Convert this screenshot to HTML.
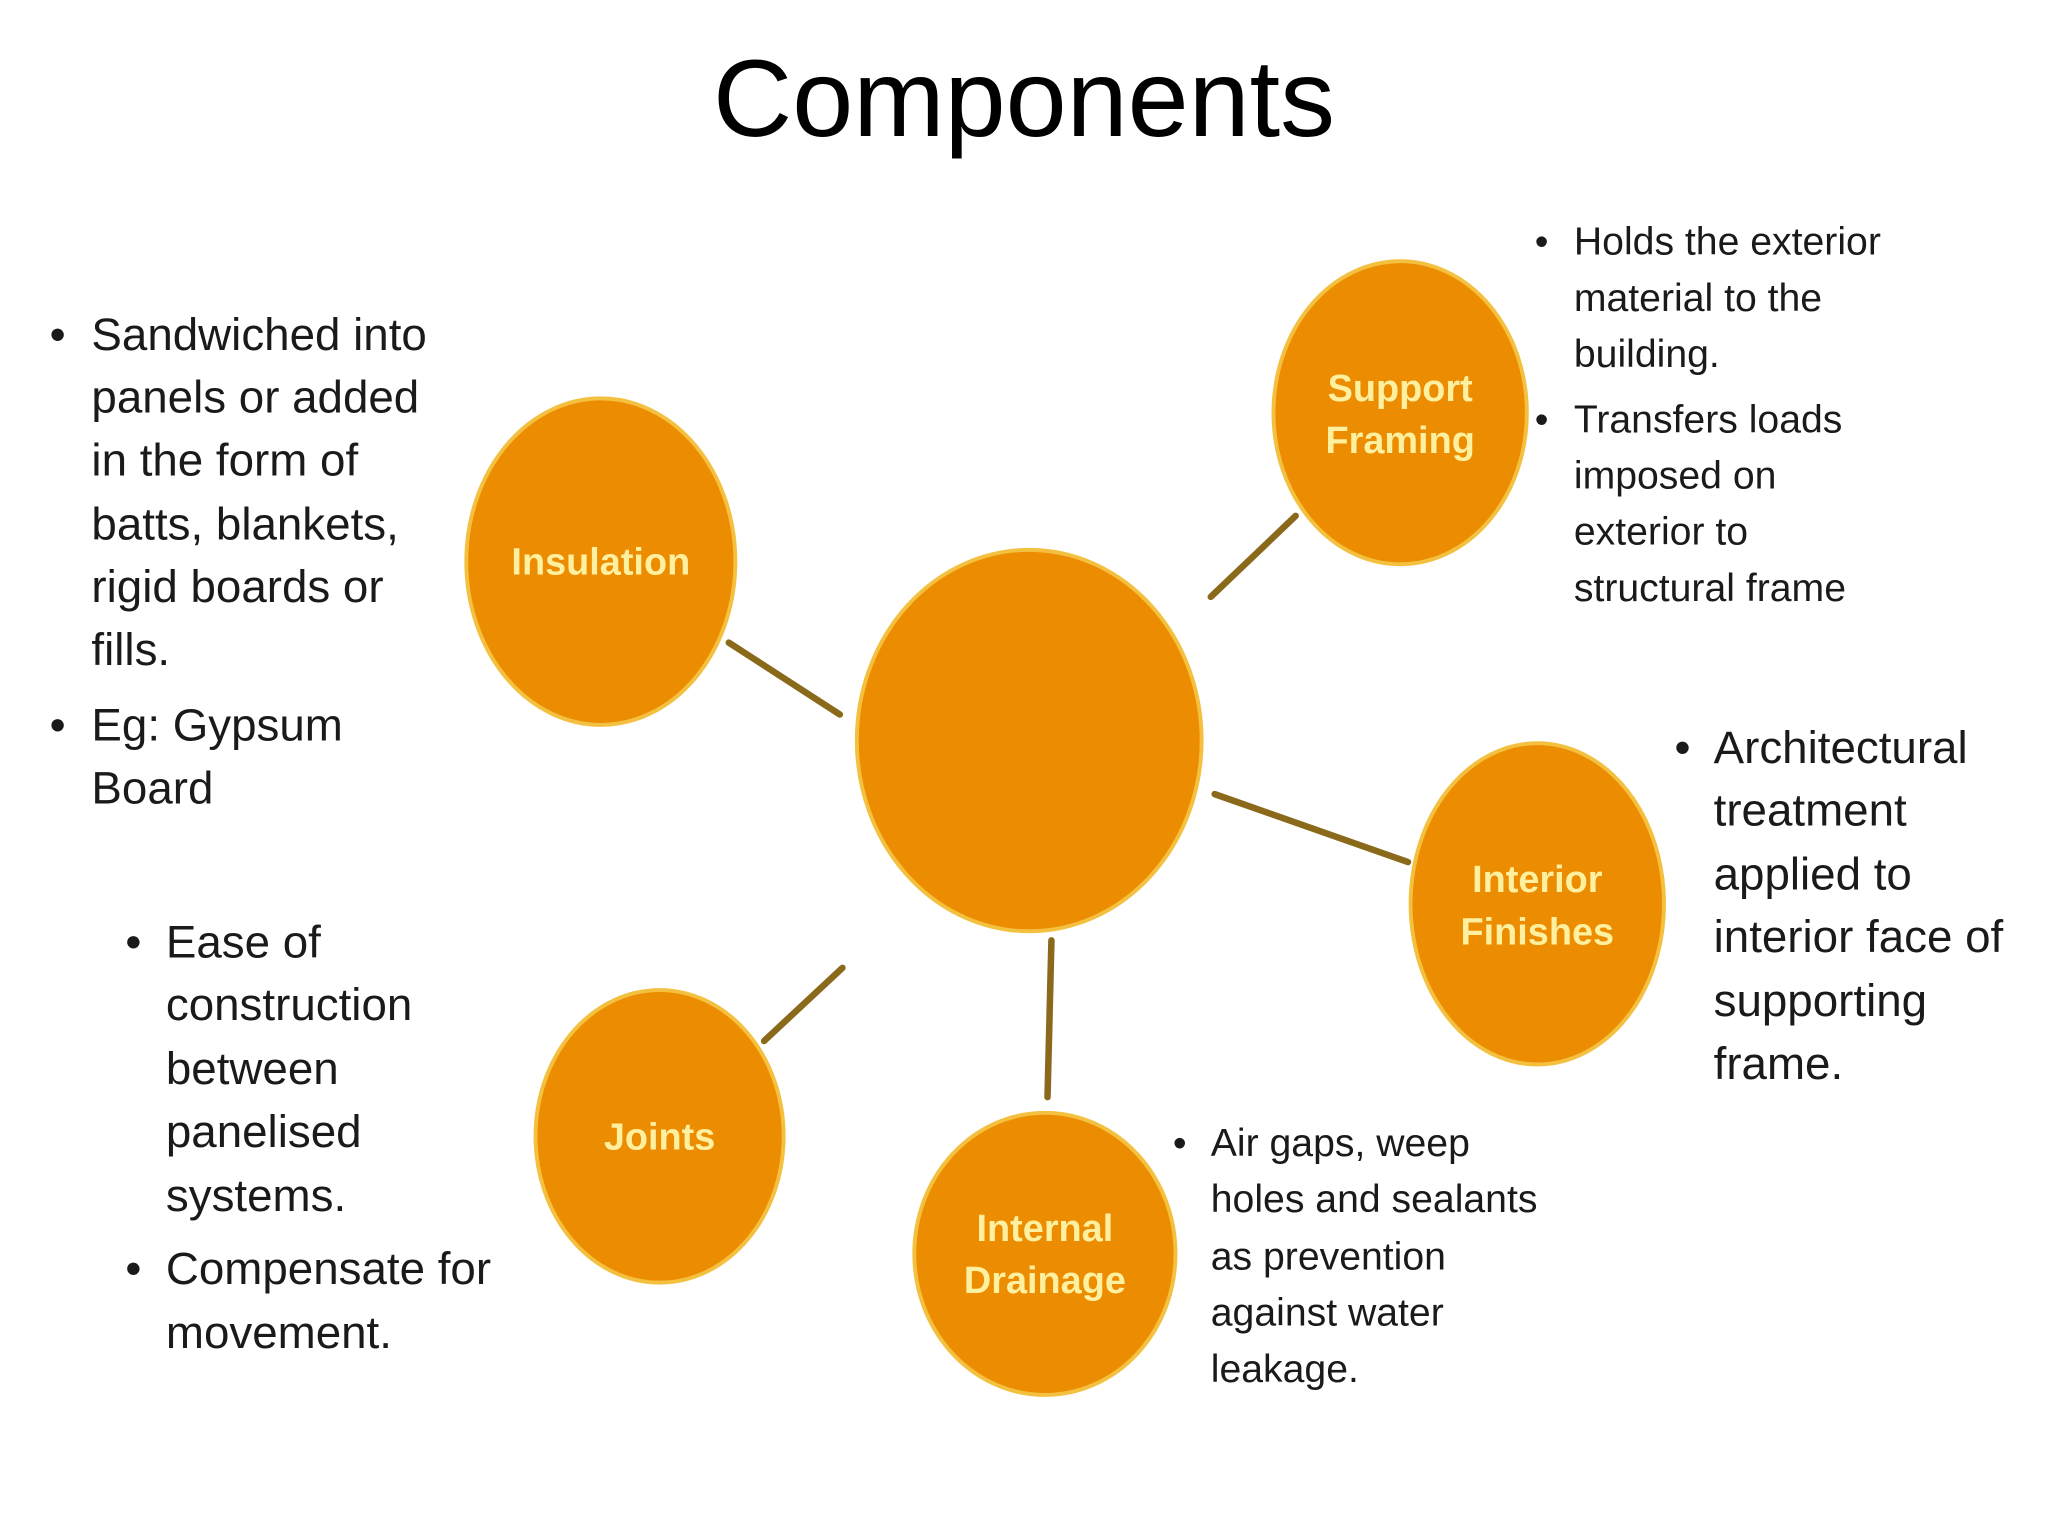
<!DOCTYPE html>
<html><head><meta charset="utf-8"><style>
html,body{margin:0;padding:0;background:#fff;width:2048px;height:1536px;overflow:hidden}
svg{display:block}
text{font-family:"Liberation Sans",sans-serif}
.b{font-size:35px;fill:#1a1a1a}
.s{font-size:30px;fill:#1a1a1a}
.l{font-size:29px;font-weight:bold;fill:#FFF0A0;text-anchor:middle}
</style></head><body>
<svg width="2048" height="1536" viewBox="0 0 1568 1176" preserveAspectRatio="none">
<text x="784" y="104" font-size="84" text-anchor="middle" fill="#000">Components</text>
<g stroke="#8A6A1A" stroke-width="5" stroke-linecap="round">
<line x1="558" y1="492" x2="643" y2="547"/>
<line x1="927" y1="457" x2="992" y2="395"/>
<line x1="930" y1="608" x2="1078" y2="660"/>
<line x1="805" y1="720" x2="802" y2="840"/>
<line x1="585" y1="797" x2="645" y2="741"/>
</g>
<g fill="#EC8C00" stroke="#F4C040" stroke-width="3">
<ellipse cx="788" cy="567" rx="132" ry="146"/>
<ellipse cx="460" cy="430" rx="103" ry="125"/>
<ellipse cx="1072" cy="316" rx="97" ry="116"/>
<ellipse cx="1177" cy="692" rx="97" ry="123"/>
<ellipse cx="505" cy="870" rx="95" ry="112"/>
<ellipse cx="800" cy="960" rx="100" ry="108"/>
</g>
<text class="l" x="460" y="440">Insulation</text>
<text class="l" x="1072" y="307">Support</text><text class="l" x="1072" y="347">Framing</text>
<text class="l" x="1177" y="683">Interior</text><text class="l" x="1177" y="723">Finishes</text>
<text class="l" x="505" y="880">Joints</text>
<text class="l" x="800" y="950">Internal</text><text class="l" x="800" y="990">Drainage</text>
<g class="b">
<text x="38" y="268">•</text>
<text x="70" y="268">Sandwiched into</text><text x="70" y="316">panels or added</text><text x="70" y="364">in the form of</text><text x="70" y="413">batts, blankets,</text><text x="70" y="461">rigid boards or</text><text x="70" y="509">fills.</text>
<text x="38" y="567">•</text><text x="70" y="567">Eg: Gypsum</text><text x="70" y="615">Board</text>
<text x="1282" y="584">•</text>
<text x="1312" y="584">Architectural</text><text x="1312" y="632">treatment</text><text x="1312" y="681">applied to</text><text x="1312" y="729">interior face of</text><text x="1312" y="778">supporting</text><text x="1312" y="826">frame.</text>
<text x="96" y="733">•</text>
<text x="127" y="733">Ease of</text><text x="127" y="781">construction</text><text x="127" y="830">between</text><text x="127" y="878">panelised</text><text x="127" y="927">systems.</text>
<text x="96" y="983">•</text><text x="127" y="983">Compensate for</text><text x="127" y="1032">movement.</text>
</g>
<g class="s">
<text x="1175" y="195">•</text>
<text x="1205" y="195">Holds the exterior</text><text x="1205" y="238">material to the</text><text x="1205" y="281">building.</text>
<text x="1175" y="331">•</text>
<text x="1205" y="331">Transfers loads</text><text x="1205" y="374">imposed on</text><text x="1205" y="417">exterior to</text><text x="1205" y="460">structural frame</text>
<text x="898" y="885">•</text>
<text x="927" y="885">Air gaps, weep</text><text x="927" y="928">holes and sealants</text><text x="927" y="972">as prevention</text><text x="927" y="1015">against water</text><text x="927" y="1058">leakage.</text>
</g>
</svg>
</body></html>
